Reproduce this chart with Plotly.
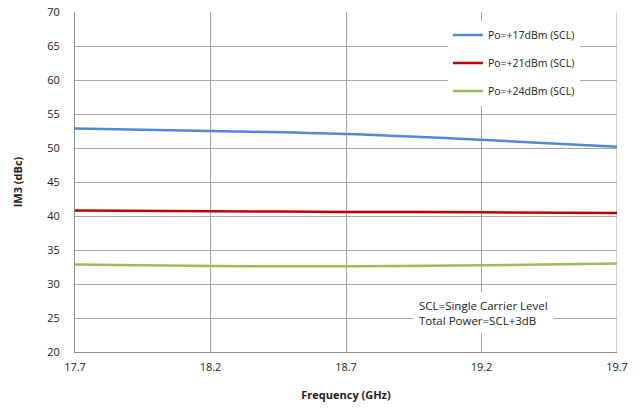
import plotly.graph_objects as go

freq = [17.7, 18.2, 18.7, 19.2, 19.7]
im3_17 = [52.85, 52.5, 52.05, 51.2, 50.2]
im3_21 = [40.8, 40.7, 40.6, 40.55, 40.45]
im3_24 = [32.85, 32.65, 32.6, 32.75, 33.0]
names = ["Po=+17dBm (SCL)", "Po=+21dBm (SCL)", "Po=+24dBm (SCL)"]
colors = ["#5088d3", "#c00000", "#9bbb59"]
x_ticks = [17.7, 18.2, 18.7, 19.2, 19.7]
y_ticks = [20, 25, 30, 35, 40, 45, 50, 55, 60, 65, 70]

fig = go.Figure()
for i, (ys, nm, c) in enumerate(zip([im3_17, im3_21, im3_24], names, colors)):
    fig.add_trace(go.Scatter(x=freq, y=ys, name=nm, mode="lines",
                             line=dict(color=c, width=2.5, shape="spline"),
                             legendgroup=f"g{i}"))

font = "Open Sans"
fig.update_layout(
    width=640, height=409,
    margin=dict(l=75, r=23, t=12, b=57, autoexpand=False),
    paper_bgcolor="white", plot_bgcolor="white",
    font=dict(family=font, size=11, color="#222"),
    showlegend=True,
    legend=dict(x=0.688, y=0.975, xanchor="left", yanchor="top",
                bgcolor="white", font=dict(size=10.5, color="#222"),
                tracegroupgap=9, itemwidth=30),
    xaxis=dict(range=[17.7, 19.7], tickvals=x_ticks, ticktext=[f"{v:.1f}" for v in x_ticks],
               showgrid=True, gridcolor="#a6a6a6", gridwidth=1,
               showline=True, linecolor="#8c8c8c", linewidth=1, mirror=False,
               zeroline=False, ticks="outside", ticklen=5, tickcolor="rgba(0,0,0,0)",
               automargin=False, ticklabeloverflow="allow",
               title=dict(text="<b>Frequency (GHz)</b>", font=dict(size=11), standoff=18)),
    yaxis=dict(range=[20, 70], tickvals=y_ticks,
               showgrid=True, gridcolor="#a6a6a6", gridwidth=1,
               showline=True, linecolor="#8c8c8c", linewidth=1,
               zeroline=False, ticks="outside", ticklen=12, tickcolor="rgba(0,0,0,0)",
               automargin=False, ticklabeloverflow="allow",
               title=dict(text="<b>IM3 (dBc)</b>", font=dict(size=11), standoff=22)),
)
fig.add_shape(type="line", xref="x", yref="paper", x0=19.7, x1=19.7, y0=0, y1=1,
              line=dict(color="#a6a6a6", width=1), layer="below")
fig.add_annotation(x=0.623, y=0.115, xref="paper", yref="paper", xanchor="left", yanchor="middle",
                   align="left", showarrow=False, bgcolor="white",
                   text="SCL=Single Carrier Level<br>Total Power=SCL+3dB",
                   font=dict(size=11.5, color="#222"), borderpad=5)
fig.write_html("out.html", config={"displayModeBar": False},
               post_script="document.body.style.margin='0';")
